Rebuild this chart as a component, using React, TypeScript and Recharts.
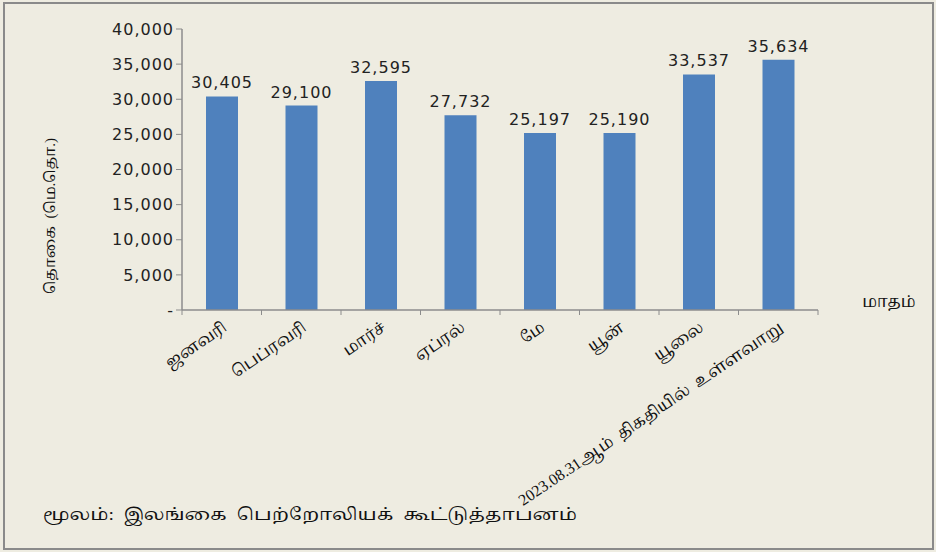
import { BarChart, Bar, XAxis, YAxis, LabelList } from "recharts";

const months = ["ஜனவரி", "பெப்ரவரி", "மார்ச்", "ஏப்ரல்", "மே", "யூன்", "யூலை", "2023.08.31ஆம்  திகதியில்  உள்ளவாறு"];
const volumes = [30405, 29100, 32595, 27732, 25197, 25190, 33537, 35634];
const yTicks = [0, 5000, 10000, 15000, 20000, 25000, 30000, 35000, 40000];

const data = months.map((m, i) => ({ month: m, value: volumes[i] }));

const numFont = "'DejaVu Sans', Verdana, sans-serif";
const tamilFont = "'Liberation Serif', Latha, 'Noto Serif Tamil', 'Noto Sans Tamil', serif";
const axisColor = "#8c8c8c";

const fmt = (v: number) => (v === 0 ? "-" : v.toLocaleString("en-US"));

function MonthTick(props: any) {
  const { x, y, payload, index, visibleTicksCount } = props;
  const half = payload.offset ?? 0;
  const tx = x + 6;
  const ty = y + 12;
  return (
    <g>
      <line x1={x - half} y1={y - 8} x2={x - half} y2={y - 3} stroke={axisColor} />
      {index === visibleTicksCount - 1 && (
        <line x1={x + half} y1={y - 8} x2={x + half} y2={y - 3} stroke={axisColor} />
      )}
      <text
        x={tx}
        y={ty}
        textAnchor="end"
        transform={`rotate(-34 ${tx} ${ty})`}
        fontFamily={tamilFont}
        fontSize={16}
        fill="#111"
        style={{ whiteSpace: "pre" }}
      >
        {payload.value}
      </text>
    </g>
  );
}

export default function App() {
  return (
    <div style={{ position: "absolute", left: 0, top: 0, width: 936, height: 552, background: "#EEECE1" }}>
      <div style={{ position: "absolute", left: 3, top: 2, width: 927, height: 544, border: "2px solid #8a8a8a" }} />
      <BarChart
        width={936}
        height={552}
        data={data}
        margin={{ top: 29, right: 118, bottom: 42, left: 0 }}
        barSize={32}
      >
        <XAxis
          dataKey="month"
          height={200}
          interval={0}
          tickLine={false}
          axisLine={{ stroke: axisColor, strokeWidth: 1.5 }}
          tick={<MonthTick />}
        />
        <YAxis
          width={182}
          domain={[0, 40000]}
          ticks={yTicks}
          interval={0}
          tickFormatter={fmt}
          axisLine={{ stroke: axisColor, strokeWidth: 1.5 }}
          tickLine={{ stroke: axisColor }}
          tickSize={6}
          tick={{ fill: "#222", fontSize: 16, fontFamily: numFont, letterSpacing: 1 }}
        />
        <Bar dataKey="value" fill="#4F81BD" isAnimationActive={false}>
          <LabelList
            dataKey="value"
            position="top"
            offset={8}
            formatter={(v: any) => Number(v).toLocaleString("en-US")}
            style={{ fill: "#222", fontSize: 16, fontFamily: numFont, letterSpacing: 1 }}
          />
        </Bar>
        <text
          x={50}
          y={216}
          transform="rotate(-90 50 216)"
          textAnchor="middle"
          dominantBaseline="central"
          fontFamily={tamilFont}
          fontSize={15}
          fill="#111"
          style={{ whiteSpace: "pre" }}
        >
          தொகை  (மெ.தொ.)
        </text>
        <text x={889} y={307} textAnchor="middle" fontFamily={tamilFont} fontSize={16} fill="#111">
          மாதம்
        </text>
        <text
          x={43}
          y={520}
          fontFamily={tamilFont}
          fontSize={17}
          fill="#111"
          textLength={534}
          lengthAdjust="spacingAndGlyphs"
          style={{ whiteSpace: "pre" }}
        >
          மூலம்:  இலங்கை  பெற்றோலியக்  கூட்டுத்தாபனம்
        </text>
      </BarChart>
    </div>
  );
}
